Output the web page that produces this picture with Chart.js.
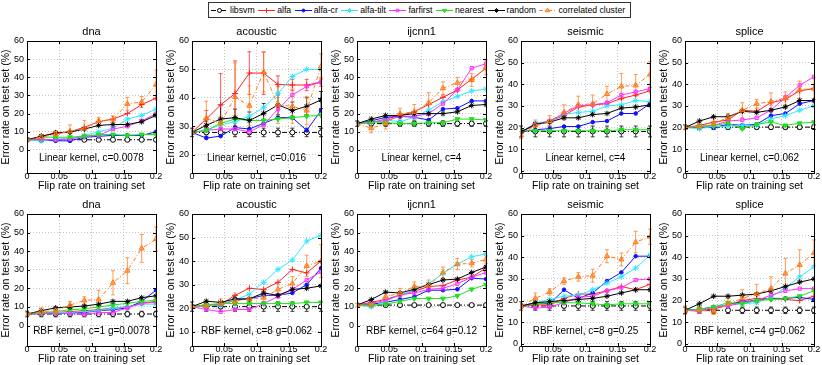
<!DOCTYPE html>
<html>
<head>
<meta charset="utf-8">
<script src="https://cdn.jsdelivr.net/npm/chart.js@4.4.0/dist/chart.umd.min.js"></script>
<style>
    body { margin: 0; background: #fff; width: 822px; height: 365px; overflow: hidden; position: relative;
           font-family: "Liberation Sans", Arial, sans-serif; }
    canvas { position: absolute; }
    #legend { position: absolute; left: 208px; top: 2px; width: 423px; height: 16px; box-sizing: border-box;
              border: 1px solid #333; background: #fff; display: flex; align-items: center; padding-left: 2px;
              font-size: 8.7px; color: #000; white-space: nowrap; overflow: hidden; }
    #legend .item { display: flex; align-items: center; margin-right: 3.5px; }
    #legend canvas { position: static; margin-right: 2px; }
</style>
</head>
<body>
<div id="legend"></div>
<script>
// x positions (flip rate) and ticks
var flipRates = [0, 0.0222, 0.0444, 0.0667, 0.0889, 0.1111, 0.1333, 0.1556, 0.1778, 0.2];
var xTicks = [0, 0.05, 0.1, 0.15, 0.2];
var xTickLabels = ['0', '0.05', '0.1', '0.15', '0.2'];
var seriesNames = ['libsvm', 'alfa', 'alfa-cr', 'alfa-tilt', 'farfirst', 'nearest', 'random', 'correlated cluster'];

// error rate (%) per panel, rows in seriesNames order
var dnaLinear = [
    [5.6, 5.6, 5.6, 5.6, 5.6, 5.6, 5.6, 5.6, 5.6, 5.6],
    [5.6, 7.5, 9.5, 10, 12.5, 15.5, 17, 20, 25, 28.5],
    [5.6, 5.5, 5, 5, 7, 7.5, 8, 8, 8, 10],
    [5.6, 5, 6, 6.5, 8, 10, 12, 17, 19, 22.5],
    [5.6, 6, 5.5, 6, 7.5, 8, 11.5, 13, 16, 20],
    [5.6, 7, 7, 7, 7.5, 8.5, 8.5, 8, 8.5, 8.5],
    [5.6, 7.5, 9.2, 9.8, 11.5, 13.5, 14, 14, 15.5, 19],
    [5.6, 7, 8.7, 10.3, 11.8, 16, 16.8, 25.4, 26.4, 36]
];
var acousticLinear = [
    [27.8, 27.8, 27.8, 27.8, 27.8, 27.8, 27.8, 27.8, 27.8, 27.8],
    [27.8, 32.5, 37.5, 41.5, 48.7, 48.7, 44.7, 44.5, 44.5, 45.5],
    [27.8, 25.8, 26.5, 29.5, 29, 31, 33, 33, 28.5, 35.5],
    [27.8, 28.5, 30.5, 31.5, 33.5, 36.5, 41.5, 47.5, 50, 50],
    [27.8, 28.5, 29, 29, 28, 30.5, 36, 41, 44, 45.5],
    [27.8, 28.5, 31, 32.5, 32, 32, 32.5, 33, 33.5, 33.8],
    [27.8, 30.3, 32.5, 33, 32, 34.5, 37.5, 35.5, 37, 39.2],
    [27.8, 32.8, 31, 40.3, 37.2, 49, 37.5, 37, 35.5, 51]
];
var ijcnn1Linear = [
    [14.5, 14.5, 14.5, 14.5, 14.5, 14.5, 14.5, 14.5, 14.5, 14.5],
    [14.5, 15, 17, 19, 21, 25, 29, 33, 39, 45],
    [14.5, 16, 18, 18.5, 18, 16.5, 22.5, 23, 27, 27],
    [14.5, 15, 16.5, 15.5, 18, 22, 26.5, 29.5, 32.5, 33.5],
    [14.5, 15.5, 16, 18.5, 18.5, 20, 25.5, 33, 45, 47.5],
    [14.5, 15.5, 15, 14.5, 14.5, 15, 15, 17, 17, 16.5],
    [14.5, 17, 19, 19, 20, 20, 20, 21, 24.5, 25],
    [14.5, 12, 14.5, 20, 21, 26, 34, 37, 38.5, 45.5]
];
var seismicLinear = [
    [18.2, 18.2, 18.2, 18.2, 18.2, 18.2, 18.2, 18.2, 18.2, 18.2],
    [18, 21, 23, 25.5, 29.5, 30.5, 31, 33.5, 35, 37],
    [18, 19, 19.5, 20.5, 20.5, 22.5, 23, 26.5, 26.5, 31],
    [18, 22, 23, 26, 27, 27.5, 30, 30.5, 32.5, 32],
    [18, 21.5, 23, 26.5, 30, 30.5, 31.5, 35, 36.5, 38],
    [18.5, 18.5, 18.5, 18.5, 18.5, 18.5, 18.5, 19, 19, 19],
    [18, 21.5, 22.5, 24.5, 24.5, 26, 26.5, 29, 29.5, 30.5],
    [16.5, 21, 23, 27, 30.5, 31, 35.5, 39, 39.5, 44.5]
];
var spliceLinear = [
    [20.2, 20.2, 20.2, 20.2, 20.2, 20.2, 20.2, 20.2, 20.2, 20.2],
    [20, 21, 22.5, 23.5, 28, 27.5, 31.5, 33, 37, 38],
    [20, 20, 20, 21.5, 21, 21.5, 25.5, 26.5, 31, 32.5],
    [20, 19.5, 20.5, 20.5, 21, 21, 24, 25.5, 28, 30],
    [20, 20.5, 21, 23, 23.5, 24.5, 28, 34, 39.5, 43.5],
    [20, 20.5, 21, 22, 19.5, 21.5, 22.5, 21, 22, 22.5],
    [20, 23, 25, 25, 27.5, 27, 28, 29.5, 32.5, 32.5],
    [20, 20.5, 22, 24.5, 28, 31, 32, 33.5, 37.5, 38]
];
var dnaRbf = [
    [6.2, 6.2, 6.2, 6.2, 6.2, 6.2, 6.2, 6.2, 6.2, 6.2],
    [6.2, 6.5, 7, 7.5, 8, 8.5, 9.5, 10, 12, 13],
    [6.2, 6.5, 7, 7, 7, 8, 8.5, 9.5, 13, 19],
    [6.2, 6.5, 7, 7, 7.5, 8, 9.5, 10, 11.5, 11.5],
    [6.2, 6.5, 6.5, 6.5, 6, 7, 7, 9.5, 12, 12.5],
    [6.2, 7, 7.5, 8.5, 9, 10, 11, 12, 13, 13.5],
    [6.2, 8, 9.5, 10, 10.5, 11.5, 13, 13, 15, 16],
    [6.2, 7.5, 8, 11, 13.5, 14, 23, 29.5, 41.5, 46.5]
];
var acousticRbf = [
    [20.7, 20.7, 20.7, 20.7, 20.7, 20.7, 20.7, 20.7, 20.7, 20.7],
    [20.7, 21.5, 21.5, 25.5, 28.5, 28, 31, 36.5, 35, 40],
    [20.7, 21, 21.5, 23.5, 24, 25.5, 25.5, 26.5, 30, 37],
    [20.7, 21, 21.5, 23.5, 26, 31, 36.5, 40.5, 48.5, 51],
    [20.7, 19.5, 18.5, 19.5, 19.5, 22, 25, 28, 32, 35.5],
    [20.7, 21.5, 22, 22, 22, 22, 22, 22, 22.5, 22.5],
    [20.7, 23, 22.5, 24, 24, 26.5, 25.5, 28, 28.5, 29.5],
    [20.7, 21, 22, 23, 24, 24.5, 28, 30.5, 38, 40]
];
var ijcnn1Rbf = [
    [11, 11, 11, 11, 11, 11, 11, 11, 11, 11],
    [11, 12.5, 14, 16.5, 18.5, 21, 21.5, 24.5, 26, 31],
    [11, 11.5, 12.5, 14, 15.5, 19, 19, 19.5, 25.5, 25],
    [11, 10, 13, 16.5, 19, 22.5, 28, 33, 37, 38.5],
    [11, 12, 13.5, 16.5, 17.5, 19.5, 20, 22.5, 26, 28.5],
    [11, 11, 11.5, 13, 14.5, 14.5, 14.5, 16, 19.5, 22],
    [11, 14, 18, 17.5, 19.5, 22, 24.5, 25, 28.5, 31.5],
    [11, 11, 15.5, 17.5, 21, 21.5, 28.5, 33, 33.5, 35.5]
];
var seismicRbf = [
    [17.5, 17.5, 17.5, 17.5, 17.5, 17.5, 17.5, 17.5, 17.5, 17.5],
    [17.5, 18, 18, 21, 23, 23, 24.5, 26.5, 25, 27.5],
    [17.5, 19, 18.5, 25, 21, 23.5, 29, 33, 40.5, 40.5],
    [17.5, 19, 20.5, 22, 22.5, 25, 28, 31, 35, 41],
    [17.5, 16.5, 17, 19, 21.5, 22, 24.5, 26, 29.5, 30],
    [17.5, 18.5, 19, 19, 19, 18.5, 18, 18.5, 18.5, 18.5],
    [17.5, 19, 19.5, 20, 20.5, 21, 22, 23.5, 25, 25],
    [17.5, 21, 24, 29, 31, 31.5, 40.5, 39, 47, 49.5]
];
var spliceRbf = [
    [15.5, 15.5, 15.5, 15.5, 15.5, 15.5, 15.5, 15.5, 15.5, 15.5],
    [15.5, 15.5, 16, 18, 20, 21, 21, 20.5, 20, 22],
    [15.5, 16, 17, 18, 19.5, 20, 21, 21, 21.5, 20.5],
    [15.5, 15.5, 17, 18, 18.5, 19, 21.5, 26, 31, 35.5],
    [15.5, 15, 17, 17.5, 19, 20, 22.5, 24.5, 25.5, 25.5],
    [15.5, 16, 17, 19, 18.5, 20, 20.5, 21, 22, 24.5],
    [15.5, 18.5, 22, 22, 22.5, 23, 24.5, 26.5, 28.5, 30],
    [15.5, 15.5, 15, 18.5, 21, 23, 25.5, 32.5, 36.5, 42]
];

// error bar half-widths (correlated cluster, plus a few other series)
var dnaLinearErr = [0, 1.5, 2, 3.5, 4.5, 2, 2, 3.5, 3, 8];
var acousticLinearErr = [0, 6, 2.5, 12, 7, 7, 6.5, 6, 5, 4.5];
var acousticLinearAlfaErr = [0, 3, 11, 11.5, 7.5, 7.5, 3, 2, 2, 1.5];
var acousticLinearRandomErr = [0, 1.5, 5, 3, 3, 3.5, 3.5, 3, 3, 3];
var ijcnn1LinearErr = [0, 2.5, 3, 3, 4, 5.5, 3.5, 3, 3.5, 4];
var seismicLinearErr = [1.5, 2.5, 2.5, 3.5, 4, 4, 3.5, 6, 5, 6];
var spliceLinearErr = [1, 1.5, 2.5, 2, 3.5, 2, 4, 3, 4, 5];
var dnaRbfErr = [1, 2, 2, 2, 2, 5, 6.5, 7, 7.5, 6.5];
var acousticRbfErr = [0.5, 1.5, 2, 2.5, 2, 3, 3, 3, 4.5, 7];
var ijcnn1RbfErr = [1, 1, 2, 2.5, 2.5, 3, 3, 3, 2, 2];
var seismicRbfErr = [2, 2.5, 1.5, 1.5, 2, 3, 3, 3, 5, 3.5];
var spliceRbfErr = [2, 1.5, 1.5, 2.5, 4, 4.5, 5.5, 7, 7, 6];
var acousticLinearLibsvmErr = [1.5, 1.5, 1.5, 1.5, 1.5, 1.5, 1.5, 1.5, 1.5, 1.5];
var ijcnn1LinearLibsvmErr = [1.5, 1.5, 1.5, 1.5, 1.5, 1.5, 1.5, 1.5, 1.5, 1.5];
var seismicLinearLibsvmErr = [2.5, 2.5, 2.5, 2.5, 2.5, 2.5, 2.5, 2.5, 2.5, 2.5];
var spliceLinearLibsvmErr = [1, 1, 1, 1, 1, 1, 1, 1, 1, 1];
var dnaRbfLibsvmErr = [1.5, 1.5, 1.5, 1.5, 1.5, 1.5, 1.5, 1.5, 1.5, 1.5];
var acousticRbfLibsvmErr = [2, 2, 2, 2, 2, 2, 2, 2, 2, 2];
var seismicRbfLibsvmErr = [2, 2, 2, 2, 2, 2, 2, 2, 2, 2];
var spliceRbfLibsvmErr = [1.5, 1.5, 1.5, 1.5, 1.5, 1.5, 1.5, 1.5, 1.5, 1.5];

var yTicksFull = [0, 10, 20, 30, 40, 50, 60];

// styles
var colors = ['#000000', '#ff2020', '#1010ff', '#30e8ff', '#ff30ff', '#20e020', '#000000', '#ff7a1a'];
var dashes = [[5, 2, 1, 2], [], [], [], [], [], [], [4, 2, 1, 2]];
var markers = ['circle', 'cross', 'circle', 'star', 'rect', 'triangle', 'star', 'triangle'];
var markerSizes = [2.5, 3, 1.8, 3, 2.3, 2.8, 2.8, 3];
var markerRot = [0, 0, 0, 0, 0, 180, 0, 0];
var markerFill = ['#ffffff', '#ff2020', '#1010ff', '#30e8ff', 'rgba(255,48,255,0.2)', '#20e020', '#000000', 'rgba(255,122,26,0.5)'];

var panels = [
    { title: 'dna', note: 'Linear kernel, c=0.0078', values: dnaLinear, err: { 7: dnaLinearErr }, yMin: -12.7, yTicks: yTicksFull, row: 0, col: 0 },
    { title: 'acoustic', note: 'Linear kernel, c=0.016', values: acousticLinear, err: { 0: acousticLinearLibsvmErr, 1: acousticLinearAlfaErr, 6: acousticLinearRandomErr, 7: acousticLinearErr }, yMin: 13.5, yTicks: [20, 30, 40, 50, 60], row: 0, col: 1 },
    { title: 'ijcnn1', note: 'Linear kernel, c=4', values: ijcnn1Linear, err: { 0: ijcnn1LinearLibsvmErr, 7: ijcnn1LinearErr }, yMin: -12.7, yTicks: yTicksFull, row: 0, col: 2 },
    { title: 'seismic', note: 'Linear kernel, c=4', values: seismicLinear, err: { 0: seismicLinearLibsvmErr, 7: seismicLinearErr }, yMin: -1, yTicks: yTicksFull, row: 0, col: 3 },
    { title: 'splice', note: 'Linear kernel, c=0.062', values: spliceLinear, err: { 0: spliceLinearLibsvmErr, 7: spliceLinearErr }, yMin: -1, yTicks: yTicksFull, row: 0, col: 4 },
    { title: 'dna', note: 'RBF kernel, c=1 g=0.0078', values: dnaRbf, err: { 0: dnaRbfLibsvmErr, 7: dnaRbfErr }, yMin: -11, yTicks: yTicksFull, row: 1, col: 0 },
    { title: 'acoustic', note: 'RBF kernel, c=8 g=0.062', values: acousticRbf, err: { 0: acousticRbfLibsvmErr, 7: acousticRbfErr }, yMin: 4, yTicks: [10, 20, 30, 40, 50, 60], row: 1, col: 1 },
    { title: 'ijcnn1', note: 'RBF kernel, c=64 g=0.12', values: ijcnn1Rbf, err: { 7: ijcnn1RbfErr }, yMin: -11, yTicks: yTicksFull, row: 1, col: 2 },
    { title: 'seismic', note: 'RBF kernel, c=8 g=0.25', values: seismicRbf, err: { 0: seismicRbfLibsvmErr, 7: seismicRbfErr }, yMin: -1, yTicks: yTicksFull, row: 1, col: 3 },
    { title: 'splice', note: 'RBF kernel, c=4 g=0.062', values: spliceRbf, err: { 0: spliceRbfLibsvmErr, 7: spliceRbfErr }, yMin: -1, yTicks: yTicksFull, row: 1, col: 4 }
];

var plotLefts = [27, 192, 357, 521, 685];
var rowTops = [20, 193];
var FONT = '"Liberation Sans", Arial, sans-serif';

// box, inner ticks, error bars, title and kernel note
var decorPlugin = {
    id: 'decor',
    beforeDatasetsDraw: function(chart) {
        var ctx = chart.ctx;
        var ys = chart.scales.y;
        ctx.save();
        chart.data.datasets.forEach(function(ds, i) {
            if (!ds.err) return;
            var meta = chart.getDatasetMeta(i);
            ctx.strokeStyle = ds.borderColor;
            ctx.globalAlpha = 0.75;
            ctx.lineWidth = 1;
            meta.data.forEach(function(pt, k) {
                var v = ds.data[k].y, e = ds.err[k];
                if (!e) return;
                var y1 = ys.getPixelForValue(v - e), y2 = ys.getPixelForValue(v + e);
                ctx.beginPath();
                ctx.moveTo(pt.x, y1); ctx.lineTo(pt.x, y2);
                ctx.moveTo(pt.x - 2, y1); ctx.lineTo(pt.x + 2, y1);
                ctx.moveTo(pt.x - 2, y2); ctx.lineTo(pt.x + 2, y2);
                ctx.stroke();
            });
        });
        ctx.restore();
    },
    afterDraw: function(chart) {
        var ctx = chart.ctx;
        var a = chart.chartArea;
        var opts = chart.options.plugins.decor;
        ctx.save();
        ctx.strokeStyle = '#000';
        ctx.lineWidth = 1;
        ctx.strokeRect(Math.round(a.left) + 0.5, Math.round(a.top) + 0.5, Math.round(a.right - a.left), Math.round(a.bottom - a.top));
        ctx.beginPath();
        chart.scales.x.ticks.forEach(function(t) {
            var x = Math.round(chart.scales.x.getPixelForValue(t.value)) + 0.5;
            ctx.moveTo(x, a.bottom); ctx.lineTo(x, a.bottom - 3);
            ctx.moveTo(x, a.top); ctx.lineTo(x, a.top + 3);
        });
        chart.scales.y.ticks.forEach(function(t) {
            var y = Math.round(chart.scales.y.getPixelForValue(t.value)) + 0.5;
            ctx.moveTo(a.left, y); ctx.lineTo(a.left + 3, y);
            ctx.moveTo(a.right, y); ctx.lineTo(a.right - 3, y);
        });
        ctx.stroke();
        ctx.fillStyle = '#000';
        ctx.textAlign = 'center';
        ctx.textBaseline = 'middle';
        ctx.font = '11px ' + FONT;
        ctx.fillText(opts.title, (a.left + a.right) / 2, a.top - 9);
        ctx.font = '10px ' + FONT;
        ctx.fillText(opts.note, (a.left + a.right) / 2, a.bottom - 15);
        ctx.restore();
    }
};

panels.forEach(function(p) {
    var canvas = document.createElement('canvas');
    var left = plotLefts[p.col] - 27;
    canvas.width = 162;
    canvas.height = 172;
    canvas.style.left = left + 'px';
    canvas.style.top = rowTops[p.row] + 'px';
    document.body.appendChild(canvas);

    var datasets = seriesNames.map(function(name, i) {
        return {
            label: name,
            data: flipRates.map(function(x, k) { return { x: x, y: p.values[i][k] }; }),
            err: p.err[i] || null,
            borderColor: colors[i],
            backgroundColor: markerFill[i],
            borderWidth: 1,
            borderDash: dashes[i],
            pointStyle: markers[i],
            pointRadius: markerSizes[i],
            pointRotation: markerRot[i],
            pointBorderWidth: 1,
            pointBorderColor: colors[i],
            pointBackgroundColor: markerFill[i],
            tension: 0,
            fill: false,
            order: 8 - i
        };
    });

    new Chart(canvas, {
        type: 'line',
        data: { datasets: datasets },
        plugins: [decorPlugin],
        options: {
            responsive: false,
            animation: false,
            events: [],
            layout: { padding: { top: 21, right: 6, left: 0, bottom: 0 } },
            plugins: {
                legend: { display: false },
                tooltip: { enabled: false },
                decor: { title: p.title, note: p.note }
            },
            scales: {
                x: {
                    type: 'linear', min: 0, max: 0.2,
                    afterBuildTicks: function(s) { s.ticks = xTicks.map(function(v) { return { value: v }; }); },
                    afterFit: function(s) { s.height = 19; },
                    ticks: {
                        callback: function(v, i) { return xTickLabels[i]; },
                        font: { family: FONT, size: 9 }, color: '#000', padding: -1.5, maxRotation: 0, autoSkip: false
                    },
                    grid: { color: '#c4c4c4', lineWidth: 1, drawTicks: false },
                    border: { display: false, dash: [1, 2] },
                    title: { display: true, text: 'Flip rate on training set', font: { family: FONT, size: 10.5 }, color: '#000', padding: 0 }
                },
                y: {
                    type: 'linear', min: p.yMin, max: 60,
                    afterBuildTicks: function(s) { s.ticks = p.yTicks.map(function(v) { return { value: v }; }); },
                    afterFit: function(s) { s.width = 27; },
                    ticks: { font: { family: FONT, size: 9 }, color: '#000', padding: 3 },
                    grid: { color: '#c4c4c4', lineWidth: 1, drawTicks: false },
                    border: { display: false, dash: [1, 2] },
                    title: { display: true, text: 'Error rate on test set (%)', font: { family: FONT, size: 10.5 }, color: '#000', padding: 0 }
                }
            }
        }
    });
});

// legend
var legendBox = document.getElementById('legend');
seriesNames.forEach(function(name, i) {
    var item = document.createElement('div');
    item.className = 'item';
    var c = document.createElement('canvas');
    c.width = 17; c.height = 10;
    var ctx = c.getContext('2d');
    ctx.strokeStyle = colors[i];
    ctx.fillStyle = markerFill[i];
    ctx.lineWidth = 1;
    ctx.setLineDash(dashes[i]);
    ctx.beginPath(); ctx.moveTo(0, 5.5); ctx.lineTo(17, 5.5); ctx.stroke();
    ctx.setLineDash([]);
    Chart.helpers.drawPoint(ctx, { pointStyle: markers[i], radius: markerSizes[i] * 0.8, rotation: markerRot[i], borderWidth: 1 }, 8.5, 5.5);
    var span = document.createElement('span');
    span.textContent = name;
    item.appendChild(c);
    item.appendChild(span);
    legendBox.appendChild(item);
});
</script>
</body>
</html>
